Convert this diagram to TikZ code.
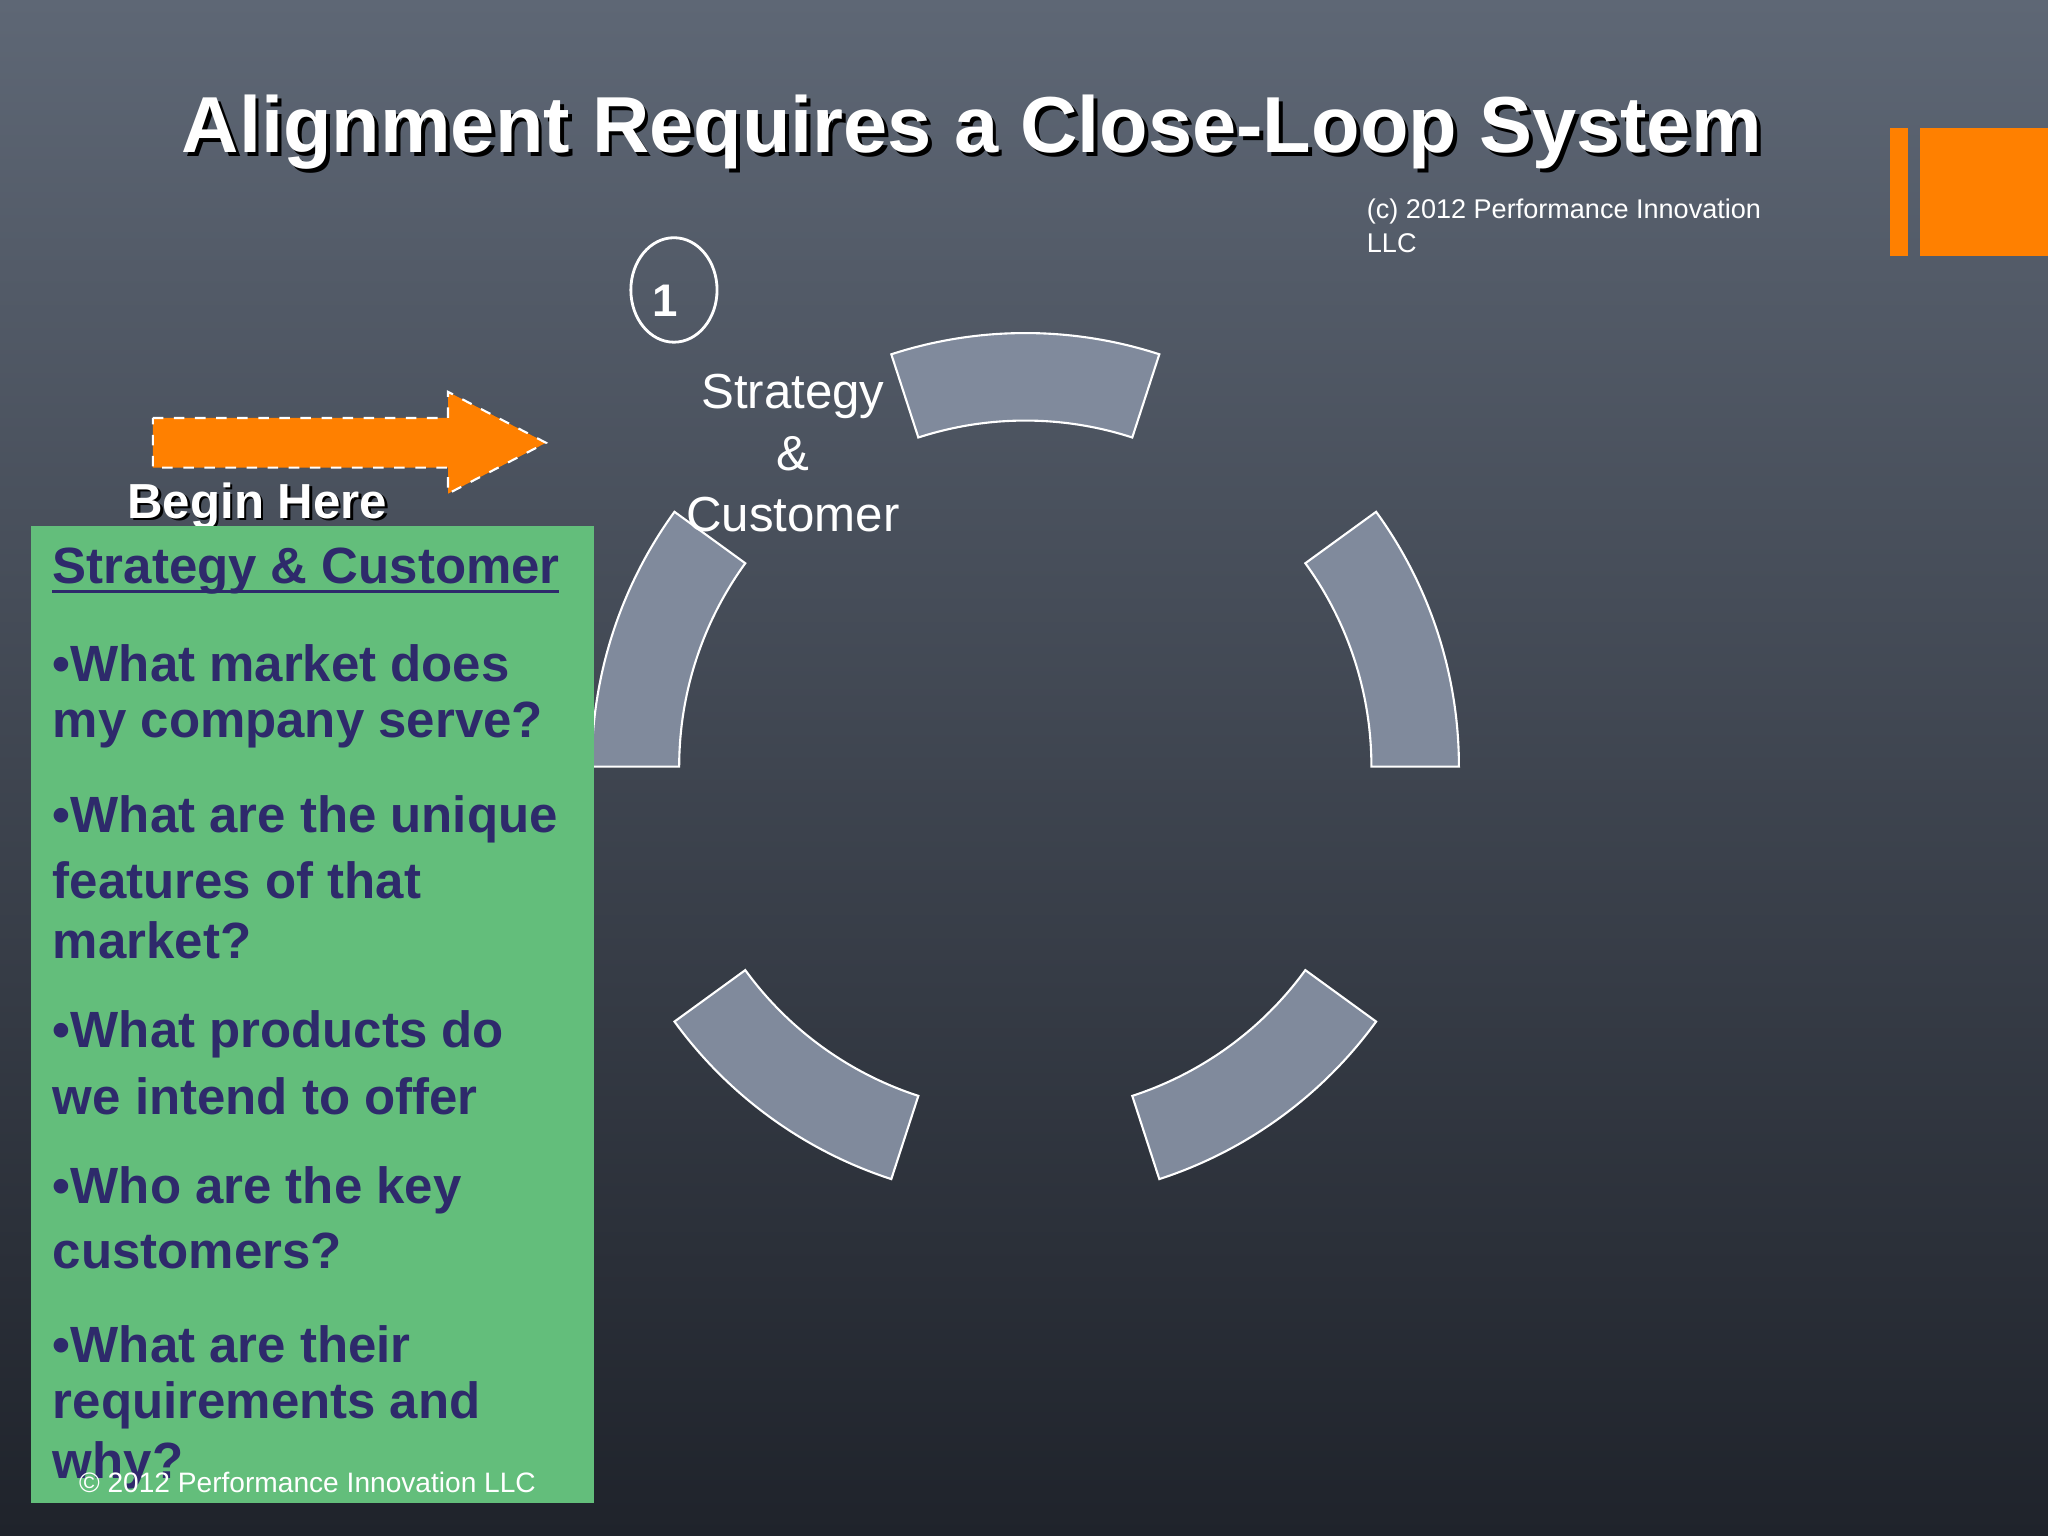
\documentclass[tikz,border=0pt]{standalone}
\usepackage{fontspec}
\setmainfont{Liberation Sans}
\usetikzlibrary{calc}
\definecolor{orng}{HTML}{FF8000}
\definecolor{grn}{HTML}{63BE7B}
\definecolor{purp}{HTML}{2E2A6B}
\definecolor{seg}{HTML}{808A9C}
\tikzset{
  px/.style={x=0.01306cm,y=-0.01306cm},
  seg/.style={fill=seg,draw=white,line width=0.6pt},
  gl/.style={anchor=west,text=purp,font=\fontsize{14.5pt}{16pt}\selectfont\bfseries,inner sep=0pt},
}
\begin{document}
\begin{tikzpicture}[px]
\shade[top color={rgb,255:red,94;green,103;blue,117}, bottom color={rgb,255:red,31;green,35;blue,43}] (0,0) rectangle (1568,1176);
\useasboundingbox (0,0) rectangle (1568,1176);
% title
\node[text=black,font=\fontsize{22.6pt}{26pt}\selectfont\bfseries] (tsh) at (747,104) {Alignment Requires a Close-Loop System};
\node[text=white,font=\fontsize{22.6pt}{26pt}\selectfont\bfseries] (title) at (744,101) {Alignment Requires a Close-Loop System};
% orange bars
\fill[orng] (1447,98) rectangle (1461,196);
\fill[orng] (1470,98) rectangle (1568,196);
\node[anchor=north west,text=white,font=\fontsize{7.7pt}{9.5pt}\selectfont,align=left,inner sep=0pt] (copy) at (1046,152) {(c) 2012 Performance Innovation\\LLC};
% ring
\foreach \a in {72,0,-72,-144,144}{
  \draw[seg] ($(785,587)+(\a:332 and -332)$) arc[start angle=\a,end angle=\a+36,x radius=332,y radius=-332]
    -- ($(785,587)+(\a+36:265 and -265)$) arc[start angle=\a+36,end angle=\a,x radius=265,y radius=-265] -- cycle;
}
% circle 1
\draw[white,line width=0.8pt] (516,222) ellipse [x radius=33,y radius=40];
\node[text=white,font=\fontsize{13pt}{15pt}\selectfont\bfseries] (one) at (509,230) {1};
\node[text=white,font=\fontsize{14pt}{17.5pt}\selectfont,align=center] (sc) at (607,347) {Strategy\\\&\\Customer};
% arrow
\draw[fill=orng,draw=white,dashed,line width=0.6pt] (117,320) -- (343,320) -- (343,300) -- (418,339) -- (343,378) -- (343,358) -- (117,358) -- cycle;
\node[text=black,font=\fontsize{14pt}{15pt}\selectfont\bfseries] (bhs) at (199,389) {Begin Here};
\node[text=white,font=\fontsize{14pt}{15pt}\selectfont\bfseries] (bh) at (197,387) {Begin Here};
% green box
\fill[grn] (24,403) rectangle (455,1151);
\node[gl] (h) at (40,437) {Strategy \& Customer};
\draw[purp,line width=0.8pt] (40,453) -- (428,453);
\foreach \y/\t in {508/•What market does,555/my company serve?,627/•What are the unique,674/features of that,720/market?,792/•What products do,839/we intend to offer,911/•Who are the key,958/customers?,1029/•What are their,1076/requirements and,1122/why?}{
  \node[gl] at (40,\y) {\t};
}
\node[anchor=west,text=white,font=\fontsize{8pt}{9pt}\selectfont,inner sep=0pt] (foot) at (60,1135) {© 2012 Performance Innovation LLC};
\end{tikzpicture}
\end{document}
